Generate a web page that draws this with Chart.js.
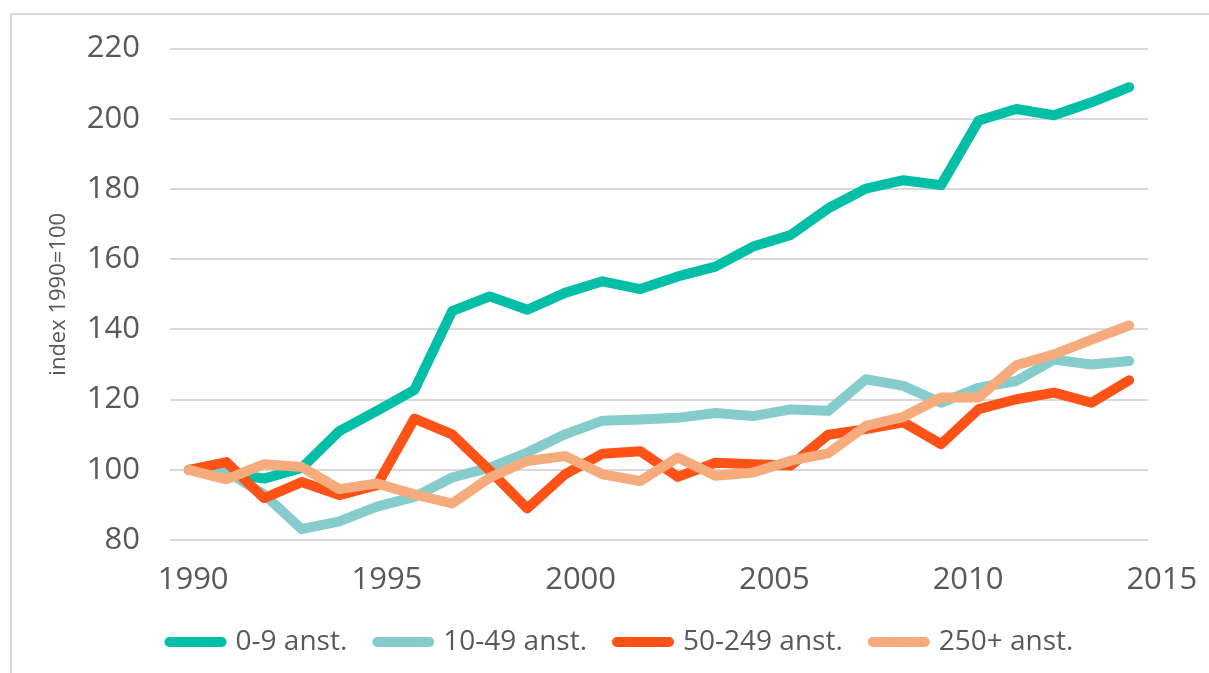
<!DOCTYPE html>
<html lang="sv">
<head>
<meta charset="utf-8">
<title>index 1990=100</title>
<script src="https://cdn.jsdelivr.net/npm/chart.js@4.4.1/dist/chart.umd.min.js"></script>
<style>
  html, body { margin: 0; padding: 0; background: #ffffff; overflow: hidden; }
  #wrap { position: relative; width: 1209px; height: 673px; }
  #frame {
    position: absolute; left: 10px; top: 13px; width: 1260px; height: 720px;
    border: 2px solid #d9d9d9; box-sizing: border-box; pointer-events: none;
  }
  #chart { position: absolute; left: 0; top: 0; }
</style>
</head>
<body>
<div id="wrap">
  <div id="frame"></div>
  <canvas id="chart" width="1209" height="673"></canvas>
</div>
<script>
/* ===================== DATA ===================== */

const years = [
  "1990", "1991", "1992", "1993", "1994", "1995", "1996", "1997", "1998",
  "1999", "2000", "2001", "2002", "2003", "2004", "2005", "2006", "2007",
  "2008", "2009", "2010", "2011", "2012", "2013", "2014", "2015",
];

const xTickLabels = [1990, 1995, 2000, 2005, 2010, 2015];

const yTicks = [80, 100, 120, 140, 160, 180, 200, 220];

const seriesNames = ["0-9 anst.", "10-49 anst.", "50-249 anst.", "250+ anst."];

const micro = [
  100, 99, 97.5, 100.5, 111, 116.8, 122.8, 145.2, 149.4, 145.6, 150.4, 153.7,
  151.5, 155.1, 157.9, 163.6, 166.9, 174.5, 180.1, 182.5, 181.1, 199.5, 202.8,
  201, 204.7, 209,
];

const small = [
  100, 99.5, 93, 83.1, 85.3, 89.5, 92.3, 97.8, 100.6, 104.9, 110.1, 114,
  114.3, 114.8, 116.2, 115.3, 117.2, 116.8, 125.8, 123.9, 119.1, 123.4, 125.3,
  131.4, 130, 131,
];

const medium = [
  100, 102.2, 91.9, 96.5, 92.8, 95.6, 114.6, 110.1, 99.8, 89, 98.7, 104.6,
  105.3, 98, 102, 101.6, 101.2, 110, 111.6, 113.5, 107.3, 117.3, 120.1, 122,
  119.1, 125.5,
];

const large = [
  100, 97.3, 101.6, 100.8, 94.5, 96.1, 93, 90.4, 97.8, 102.5, 103.9, 98.7,
  96.8, 103.5, 98.3, 99.2, 102.6, 104.7, 112.5, 115.1, 120.6, 120.6, 129.8,
  132.9, 137.1, 141.1,
];

const colors = ["#00bfa6", "#86cccc", "#ff5216", "#f5ab7b"];

/* ===================== CHART ===================== */

const FONT = "'Open Sans', 'Noto Sans', sans-serif";
const TEXT = "#595959";

function makeDataset(i, values) {
  return {
    label: seriesNames[i],
    data: values,
    borderColor: colors[i],
    backgroundColor: colors[i],
    borderWidth: 10,
    borderCapStyle: "round",
    borderJoinStyle: "round",
    pointRadius: 0,
    pointHoverRadius: 0,
    tension: 0,
    fill: false,
    // later series are painted on top, as in the original
    order: 4 - i,
  };
}

new Chart(document.getElementById("chart"), {
  type: "line",
  data: {
    labels: years,
    datasets: [
      makeDataset(0, micro),
      makeDataset(1, small),
      makeDataset(2, medium),
      makeDataset(3, large),
    ],
  },
  options: {
    responsive: false,
    animation: false,
    devicePixelRatio: 1,
    layout: { padding: { left: 38, right: 4, top: 46, bottom: 7 } },
    plugins: {
      tooltip: { enabled: false },
      legend: {
        position: "bottom",
        reverse: true,
        labels: {
          usePointStyle: true,
          pointStyle: "line",
          pointStyleWidth: 52,
          padding: 30,
          color: TEXT,
          font: { family: FONT, size: 28 },
          generateLabels: (chart) =>
            Chart.defaults.plugins.legend.labels
              .generateLabels(chart)
              .map((item) => ({ ...item, lineCap: "round" })),
        },
      },
    },
    scales: {
      // category axis that places the yearly points
      x: {
        type: "category",
        offset: true,
        display: false,
      },
      // year axis that carries the printed labels
      xYears: {
        type: "linear",
        position: "bottom",
        min: 1989.79,
        max: 2015.03,
        afterBuildTicks: (scale) => {
          scale.ticks = xTickLabels.map((v) => ({ value: v }));
        },
        afterFit: (scale) => { scale.height = 58; },
        grid: { display: false, drawTicks: false },
        border: { display: false },
        ticks: {
          autoSkip: false,
          maxRotation: 0,
          labelOffset: 15,
          padding: 22,
          color: TEXT,
          font: { family: FONT, size: 31 },
          callback: (v) => String(v),
        },
      },
      y: {
        min: yTicks[0],
        max: yTicks[yTicks.length - 1],
        afterBuildTicks: (scale) => {
          scale.ticks = yTicks.map((v) => ({ value: v }));
        },
        afterFit: (scale) => { scale.width = 132; },
        grid: { color: "#d9d9d9", lineWidth: 2, drawTicks: false },
        border: { display: false },
        ticks: {
          padding: 30,
          color: TEXT,
          font: { family: FONT, size: 31 },
        },
        title: {
          display: true,
          text: "index 1990=100",
          color: TEXT,
          padding: { top: 8, bottom: 0 },
          font: { family: FONT, size: 22 },
        },
      },
      // empty right-hand axis, only reserves the room right of the plot
      yRight: {
        position: "right",
        display: true,
        grid: { display: false, drawTicks: false },
        border: { display: false },
        ticks: { display: false },
        afterFit: (scale) => { scale.width = 57; },
      },
    },
  },
});
</script>
</body>
</html>
